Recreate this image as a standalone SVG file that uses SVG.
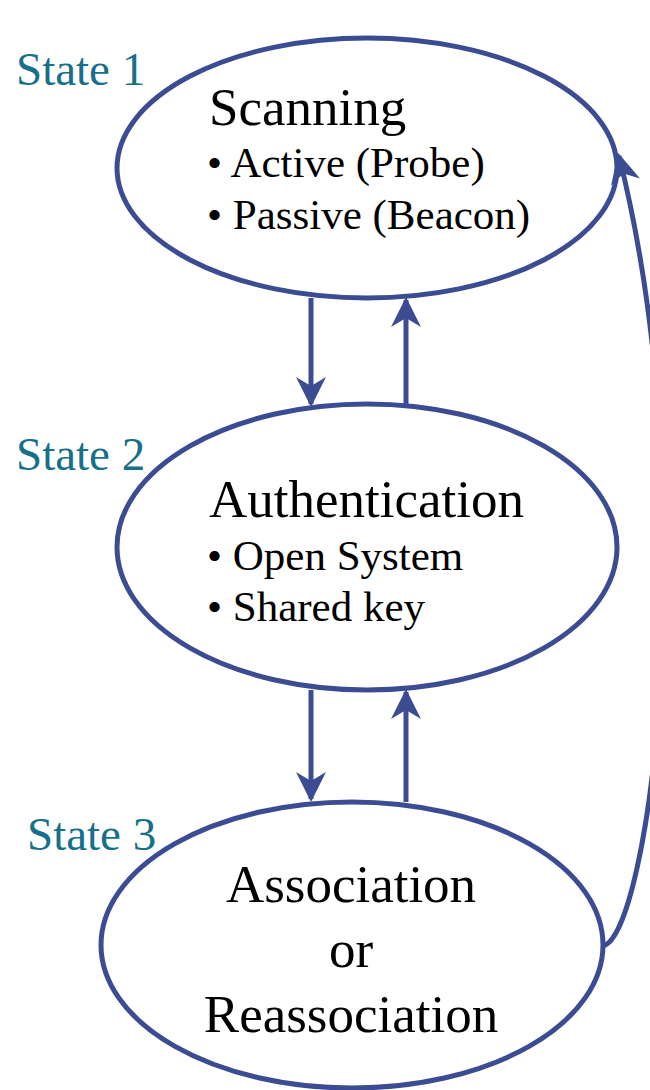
<svg xmlns="http://www.w3.org/2000/svg" width="650" height="1090" viewBox="0 0 650 1090">
  <style>
    .state { fill: #ffffff; stroke: #3b4c92; stroke-width: 5; }
    .title { font-family: "Liberation Serif", "Times New Roman", serif; font-size: 53px; fill: #000000; }
    .item { font-family: "Liberation Serif", "Times New Roman", serif; font-size: 43px; fill: #000000; }
    .label { font-family: "Liberation Serif", "Times New Roman", serif; font-size: 47px; fill: #16708a; }
    .link { fill: none; stroke: #3b4c92; stroke-width: 5; }
  </style>
  <defs>
    <marker id="arrow" viewBox="0 0 10 10" refX="9" refY="5" markerWidth="6" markerHeight="6" markerUnits="strokeWidth" orient="auto">
      <path d="M0,0 L10,5 L0,10 L3,5 Z" fill="#3b4c92"/>
    </marker>
  </defs>

  <g id="state1">
    <ellipse class="state" cx="367" cy="168" rx="250" ry="130"/>
    <text class="label" x="16" y="85">State 1</text>
    <text class="title" x="209" y="125">Scanning</text>
    <text class="item" x="207" y="177">• Active (Probe)</text>
    <text class="item" x="207" y="229">• Passive (Beacon)</text>
  </g>

  <g id="state2">
    <ellipse class="state" cx="367" cy="547" rx="250" ry="143"/>
    <text class="label" x="16" y="470">State 2</text>
    <text class="title" x="209" y="517">Authentication</text>
    <text class="item" x="207" y="570">• Open System</text>
    <text class="item" x="207" y="621">• Shared key</text>
  </g>

  <g id="state3">
    <ellipse class="state" cx="352" cy="945" rx="251" ry="143"/>
    <text class="label" x="27" y="850">State 3</text>
    <text class="title" x="351" y="902" text-anchor="middle">Association</text>
    <text class="title" x="351" y="967" text-anchor="middle">or</text>
    <text class="title" x="351" y="1032" text-anchor="middle">Reassociation</text>
  </g>

  <g id="connectors">
    <line class="link" x1="311" y1="298" x2="311" y2="404" marker-end="url(#arrow)"/>
    <line class="link" x1="406" y1="406" x2="406" y2="300" marker-end="url(#arrow)"/>
    <line class="link" x1="311" y1="690" x2="311" y2="799" marker-end="url(#arrow)"/>
    <line class="link" x1="406" y1="802" x2="406" y2="692" marker-end="url(#arrow)"/>
    <path class="link" d="M603,946 C650,935 705,500 619,156" marker-end="url(#arrow)"/>
  </g>
</svg>
